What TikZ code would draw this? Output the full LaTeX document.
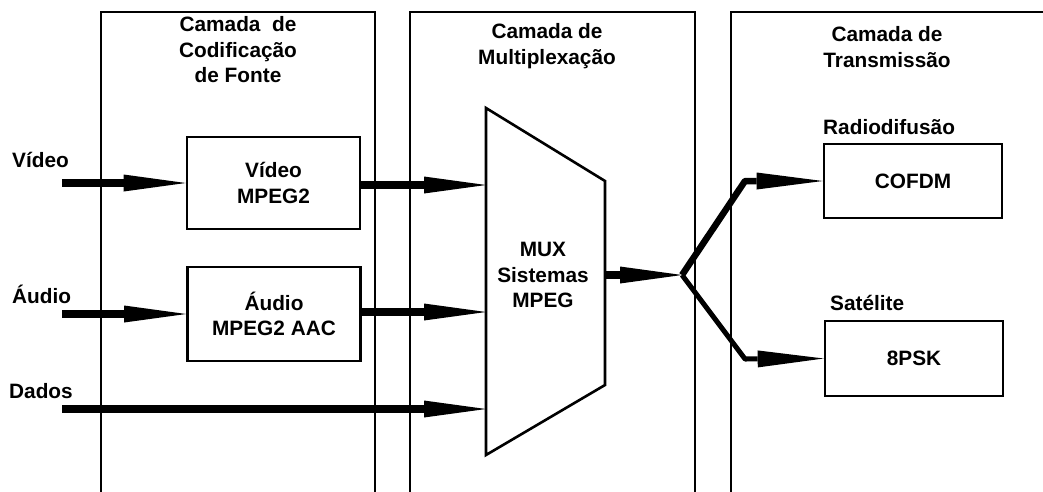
\documentclass[tikz,border=0pt]{standalone}
\usepackage{fontspec}
\setmainfont{Liberation Sans}
\usetikzlibrary{arrows.meta}
\begin{document}
\begin{tikzpicture}[x=1pt,y=-1pt,
  every node/.style={font=\bfseries\fontsize{20.8}{25.5}\selectfont, inner sep=0pt},
  layer/.style={line width=2.6pt},
  blk/.style={draw, line width=2.6pt, align=center},
  flow/.style={line width=8pt, -{Triangle[length=62pt,width=17pt,line width=0pt]}},
  branch/.style={line width=6.5pt, line join=round, -{Triangle[length=66pt,width=17pt,line width=0pt]}},
  lbl/.style={anchor=west}]
\useasboundingbox (0,0) rectangle (1043,491);
% layers
\draw[layer] (101,495) -- (101,12) -- (375,12) -- (375,495);
\draw[layer] (410,495) -- (410,12) -- (695,12) -- (695,495);
\draw[layer] (731,495) -- (731,12) -- (1050,12);
\node[align=center] (t1) at (238,50) {Camada\ \ de\\Codificação\\de Fonte};
\node[align=center] (t2) at (547,46) {Camada de\\Multiplexação};
\node[align=center] (t3) at (887,47) {Camada de\\Transmissão};
% input labels
\node[lbl] (lv) at (12,160) {Vídeo};
\node[lbl] (la) at (12,294) {Áudio};
\node[lbl] (ld) at (9,391) {Dados};
% coder blocks
\node[blk, minimum width=173pt, minimum height=92pt] (vb) at (273.5,183) {Vídeo\\MPEG2};
\node[blk, minimum width=173pt, minimum height=94pt] (ab) at (274,314) {Áudio\\MPEG2 AAC};
% mux
\coordinate (mtl) at (486,108);
\coordinate (mtr) at (605,181);
\coordinate (mbr) at (605,385);
\coordinate (mbl) at (486,455);
\draw[line width=2.6pt, line join=miter] (mtl) -- (mtr) -- (mbr) -- (mbl) -- cycle;
\node[align=center] (mux) at (543,275) {MUX\\Sistemas\\MPEG};
% transmission blocks
\node[lbl] (lr) at (823,127) {Radiodifusão};
\node[lbl] (ls) at (830,303) {Satélite};
\node[blk, minimum width=178pt, minimum height=74pt] (cof) at (913,181) {COFDM};
\node[blk, minimum width=178pt, minimum height=75pt] (psk) at (914,358.5) {8PSK};
% connector coordinates
\coordinate (sv) at (62,183);
\coordinate (sa) at (62,314);
\coordinate (sd) at (62,409);
\coordinate (mv) at (486,185);
\coordinate (ma) at (486,312);
\coordinate (md) at (486,409);
\coordinate (mo) at (605,275);
\coordinate (fork) at (682,275);
\coordinate (b1) at (745,181);
\coordinate (b2) at (745,359);
% arrows
\draw[flow] (sv) -- (vb.west);
\draw[flow] (sa) -- (ab.west);
\draw[flow] (sd) -- (md);
\draw[flow] (vb.east |- mv) -- (mv);
\draw[flow] (ab.east |- ma) -- (ma);
\draw[flow] (mo) -- (fork);
\draw[branch] (fork) -- (b1) -- (cof.west);
\draw[branch, line width=5pt] (fork) -- (b2) -- (psk.west);
\end{tikzpicture}
\end{document}
